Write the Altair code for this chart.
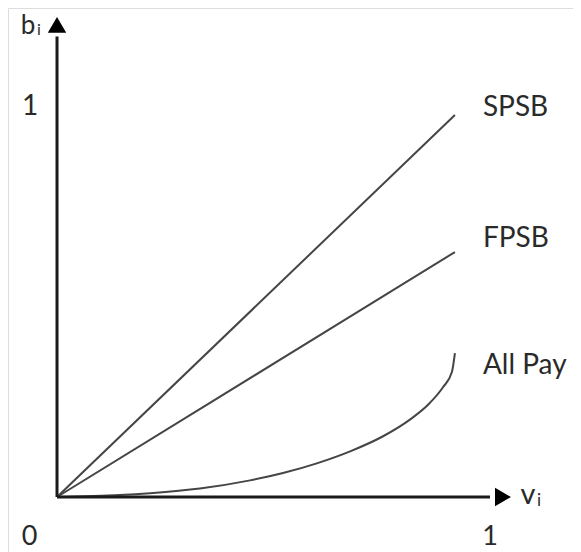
import altair as alt
import pandas as pd

# Series data
spsb_v = [0.0, 0.919]
spsb_b = [0.0, 0.987]
fpsb_v = [0.0, 0.919]
fpsb_b = [0.0, 0.633]
allpay_v = [0.0, 0.145, 0.215, 0.330, 0.446, 0.522, 0.600, 0.677, 0.753, 0.815, 0.861, 0.891, 0.912, 0.919]
allpay_b = [0.0, 0.005, 0.010, 0.022, 0.043, 0.062, 0.087, 0.118, 0.157, 0.200, 0.243, 0.283, 0.323, 0.372]
series_names = ["SPSB", "FPSB", "All Pay"]
tick_values = [0, 1]

rows = []
for name, vs, bs in zip(series_names, [spsb_v, fpsb_v, allpay_v], [spsb_b, fpsb_b, allpay_b]):
    for i, (v, b) in enumerate(zip(vs, bs)):
        rows.append({"series": name, "order": i, "v": v, "b": b})
df = pd.DataFrame(rows)

ends = df.sort_values("order").groupby("series").tail(1).copy()
label_y_shift = {"SPSB": 0.018, "FPSB": 0.034, "All Pay": -0.033}
ends["ly"] = ends["b"] + ends["series"].map(label_y_shift)

xs = alt.Scale(domain=[-0.1132, 1.1917], nice=False, zero=False)
ys = alt.Scale(domain=[-0.1421, 1.2636], nice=False, zero=False)
X = lambda f: alt.X(f, type="quantitative", scale=xs, axis=None)
Y = lambda f: alt.Y(f, type="quantitative", scale=ys, axis=None)

FONT = "Lato"
TXT = "#2a2a2a"

lines = alt.Chart(df).mark_line(color="#454545", strokeWidth=2, interpolate="monotone").encode(
    x=X("v"), y=Y("b"), detail="series:N", order="order:Q"
)

labels = alt.Chart(ends).mark_text(align="left", baseline="middle", dx=28, font=FONT,
                                   fontSize=28, color=TXT).encode(
    x=X("v"), y=Y("ly"), text="series:N"
)

# axes
axis_df = pd.DataFrame({"x0": [0.0, 0.0], "y0": [0.0, 0.0], "x1": [1.0, 0.0], "y1": [0.0, 1.19]})
axes = alt.Chart(axis_df).mark_rule(color="#1a1a1a", strokeWidth=3).encode(
    x=X("x0"), y=Y("y0"), x2="x1", y2="y1"
)
arr_up = alt.Chart(pd.DataFrame({"x": [0.0], "y": [1.22]})).mark_point(
    shape="triangle-up", filled=True, color="#000", size=340, opacity=1).encode(x=X("x"), y=Y("y"))
arr_right = alt.Chart(pd.DataFrame({"x": [1.03], "y": [0.0]})).mark_point(
    shape="triangle-right", filled=True, color="#000", size=340, opacity=1).encode(x=X("x"), y=Y("y"))

# tick labels
tick_df = pd.DataFrame({"t": tick_values, "lab": [str(t) for t in tick_values]})
xt = alt.Chart(tick_df).mark_text(font=FONT, fontSize=27, color=TXT, baseline="middle").encode(
    x=X("t"), y=alt.value(529), text="lab:N"
)
xt0 = xt.transform_filter("datum.t == 0").encode(x=alt.value(21.5))
xt1 = xt.transform_filter("datum.t == 1")
yt = alt.Chart(tick_df).transform_filter("datum.t == 1").mark_text(
    font=FONT, fontSize=28, color=TXT, baseline="middle", dy=-3).encode(
    x=alt.value(22), y=Y("t"), text="lab:N"
)

# axis titles (b_i, v_i)
bt = alt.Chart(pd.DataFrame({"s": ["b"]})).mark_text(font=FONT, fontSize=26, color=TXT,
                                                     baseline="middle", align="center").encode(
    x=alt.value(20), y=alt.value(18), text="s:N")
bi = alt.Chart(pd.DataFrame({"s": ["i"]})).mark_text(font=FONT, fontSize=16, color=TXT,
                                                     baseline="middle", align="center").encode(
    x=alt.value(31), y=alt.value(22), text="s:N")
vt = alt.Chart(pd.DataFrame({"s": ["v"]})).mark_text(font=FONT, fontSize=29, color=TXT,
                                                     baseline="middle", align="center").encode(
    x=alt.value(520), y=alt.value(487), text="s:N")
vi = alt.Chart(pd.DataFrame({"s": ["i"]})).mark_text(font=FONT, fontSize=17, color=TXT,
                                                     baseline="middle", align="center").encode(
    x=alt.value(531), y=alt.value(493), text="s:N")

chart = alt.layer(lines, axes, arr_up, arr_right, labels, xt0, xt1, yt, bt, bi, vt, vi).properties(
    width=565, height=544, padding=0, autosize=alt.AutoSizeParams(type="none")
).configure_view(stroke=None).configure(background="white")

chart.save("out.html", embed_options={"renderer": "svg", "actions": False})
